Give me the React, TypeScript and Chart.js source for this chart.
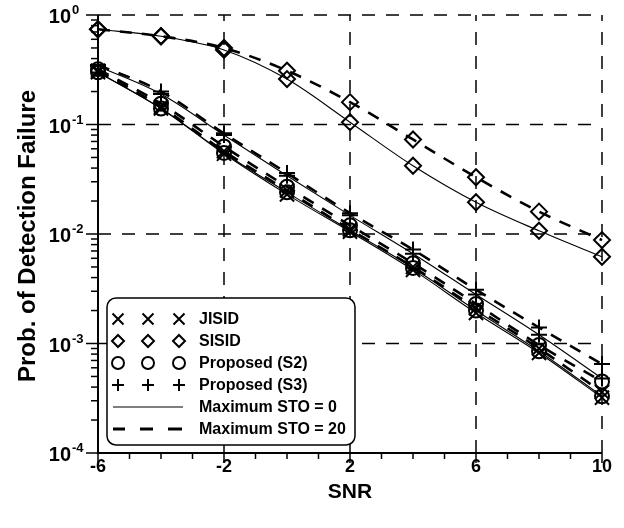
import React, { useEffect, useRef } from "react";
import { Chart, registerables } from "chart.js";
Chart.register(...registerables);

const snr = [-6, -4, -2, 0, 2, 4, 6, 8, 10];
const jisidSTO0 = [0.3, 0.14, 0.054, 0.023, 0.0105, 0.0047, 0.0019, 0.00082, 0.00032];
const jisidSTO20 = [0.31, 0.145, 0.057, 0.025, 0.011, 0.005, 0.0021, 0.0009, 0.00036];
const sisidSTO0 = [0.74, 0.64, 0.48, 0.26, 0.105, 0.042, 0.0195, 0.0107, 0.0062];
const sisidSTO20 = [0.74, 0.64, 0.5, 0.31, 0.16, 0.073, 0.033, 0.016, 0.0088];
const s2STO0 = [0.3, 0.14, 0.055, 0.024, 0.0108, 0.0049, 0.002, 0.00085, 0.00033];
const s2STO20 = [0.32, 0.155, 0.063, 0.027, 0.012, 0.0054, 0.0023, 0.00097, 0.00045];
const s3STO0 = [0.34, 0.19, 0.08, 0.034, 0.0148, 0.0066, 0.0028, 0.0012, 0.00048];
const s3STO20 = [0.35, 0.2, 0.083, 0.036, 0.0155, 0.0072, 0.0031, 0.0014, 0.00065];

const xTicks = [-6, -2, 2, 6, 10];
const yTickExps = [0, -1, -2, -3, -4];
const legendMarkerLabels = ["JISID", "SISID", "Proposed (S2)", "Proposed (S3)"];
const legendLineLabels = ["Maximum STO = 0", "Maximum STO = 20"];
const xTitle = "SNR";
const yTitle = "Prob. of Detection Failure";

const FONT = "'Liberation Sans', Arial, sans-serif";

function drawMarker(ctx: CanvasRenderingContext2D, kind: string, x: number, y: number, s: number) {
  ctx.beginPath();
  if (kind === "x") {
    ctx.moveTo(x - s, y - s); ctx.lineTo(x + s, y + s);
    ctx.moveTo(x + s, y - s); ctx.lineTo(x - s, y + s);
  } else if (kind === "d") {
    ctx.moveTo(x, y - s); ctx.lineTo(x + s, y); ctx.lineTo(x, y + s); ctx.lineTo(x - s, y); ctx.closePath();
  } else if (kind === "o") {
    ctx.arc(x, y, s, 0, Math.PI * 2);
  } else {
    ctx.moveTo(x - s, y); ctx.lineTo(x + s, y);
    ctx.moveTo(x, y - s); ctx.lineTo(x, y + s);
  }
  ctx.stroke();
}

const customPlugin = {
  id: "customAxes",
  beforeDatasetsDraw(chart: any) {
    const { ctx, chartArea: a, scales } = chart;
    const x = scales.x, y = scales.y;
    ctx.save();
    ctx.strokeStyle = "#000";
    ctx.lineWidth = 1.5;
    ctx.setLineDash([13, 11]);
    for (const t of xTicks) {
      if (t === xTicks[0]) continue;
      const px = x.getPixelForValue(t);
      ctx.beginPath(); ctx.moveTo(px, a.bottom); ctx.lineTo(px, a.top); ctx.stroke();
    }
    for (const e of yTickExps) {
      if (e === yTickExps[yTickExps.length - 1]) continue;
      const py = y.getPixelForValue(Math.pow(10, e));
      ctx.beginPath(); ctx.moveTo(a.left, py); ctx.lineTo(a.right, py); ctx.stroke();
    }
    ctx.restore();
  },
  afterDraw(chart: any) {
    const { ctx, chartArea: a, scales } = chart;
    const x = scales.x, y = scales.y;
    ctx.save();
    ctx.strokeStyle = "#000";
    ctx.fillStyle = "#000";
    ctx.setLineDash([]);
    ctx.lineWidth = 2;
    ctx.beginPath();
    ctx.moveTo(a.left, a.top); ctx.lineTo(a.left, a.bottom); ctx.lineTo(a.right, a.bottom);
    ctx.stroke();
    ctx.lineWidth = 1.5;
    for (let v = xTicks[0]; v <= xTicks[xTicks.length - 1]; v++) {
      const px = x.getPixelForValue(v);
      const major = xTicks.includes(v);
      ctx.beginPath(); ctx.moveTo(px, a.bottom); ctx.lineTo(px, a.bottom + (major ? 10 : 6)); ctx.stroke();
    }
    const emin = yTickExps[yTickExps.length - 1], emax = yTickExps[0];
    for (let e = emin; e <= emax; e++) {
      const py = y.getPixelForValue(Math.pow(10, e));
      ctx.beginPath(); ctx.moveTo(a.left, py); ctx.lineTo(a.left - 12, py); ctx.stroke();
      if (e < emax) {
        for (let m = 2; m <= 9; m++) {
          const pm = y.getPixelForValue(m * Math.pow(10, e));
          ctx.beginPath(); ctx.moveTo(a.left, pm); ctx.lineTo(a.left - 7, pm); ctx.stroke();
        }
      }
    }
    ctx.font = `bold 18px ${FONT}`;
    ctx.textAlign = "center";
    ctx.textBaseline = "middle";
    for (const t of xTicks) {
      ctx.fillText(String(t), x.getPixelForValue(t), 467);
    }
    for (const e of yTickExps) {
      const py = y.getPixelForValue(Math.pow(10, e));
      ctx.font = `bold 20px ${FONT}`;
      ctx.textAlign = "right";
      ctx.textBaseline = "alphabetic";
      ctx.fillText("10", 71, py + 8);
      ctx.font = `bold 13px ${FONT}`;
      ctx.textAlign = "left";
      ctx.fillText(String(e), 72, py - 1);
    }
    ctx.font = `bold 21px ${FONT}`;
    ctx.textAlign = "center";
    ctx.textBaseline = "middle";
    ctx.fillText(xTitle, (a.left + a.right) / 2, 492);
    ctx.save();
    ctx.translate(28, (a.top + a.bottom) / 2 + 2);
    ctx.rotate(-Math.PI / 2);
    ctx.font = `bold 24px ${FONT}`;
    ctx.fillText(yTitle, 0, 0);
    ctx.restore();
    const bx = 107, by = 298, bw = 248, bh = 147, r = 9;
    ctx.beginPath();
    ctx.moveTo(bx + r, by);
    ctx.arcTo(bx + bw, by, bx + bw, by + bh, r);
    ctx.arcTo(bx + bw, by + bh, bx, by + bh, r);
    ctx.arcTo(bx, by + bh, bx, by, r);
    ctx.arcTo(bx, by, bx + bw, by, r);
    ctx.closePath();
    ctx.fillStyle = "#fff";
    ctx.fill();
    ctx.lineWidth = 1.5;
    ctx.stroke();
    ctx.fillStyle = "#000";
    const rows = [319, 341, 363, 385, 407, 429];
    const mx = [118, 148, 179];
    const kinds = ["x", "d", "o", "p"];
    const sizes = [5.5, 6, 6, 6];
    ctx.font = `bold 16px ${FONT}`;
    ctx.textAlign = "left";
    ctx.textBaseline = "middle";
    ctx.lineWidth = 2;
    legendMarkerLabels.forEach((lab, i) => {
      for (const xx of mx) drawMarker(ctx, kinds[i], xx, rows[i], sizes[i]);
      ctx.fillText(lab, 199, rows[i] + 1);
    });
    ctx.lineWidth = 1.2;
    ctx.beginPath(); ctx.moveTo(113, rows[4]); ctx.lineTo(183, rows[4]); ctx.stroke();
    ctx.fillText(legendLineLabels[0], 199, rows[4] + 1);
    ctx.lineWidth = 3;
    for (const [s, e2] of [[113, 125], [140, 153], [168, 182]]) {
      ctx.beginPath(); ctx.moveTo(s, rows[5]); ctx.lineTo(e2, rows[5]); ctx.stroke();
    }
    ctx.fillText(legendLineLabels[1], 199, rows[5] + 1);
    ctx.restore();
  },
};

export default function App() {
  const ref = useRef<HTMLCanvasElement>(null);
  useEffect(() => {
    document.body.style.margin = "0";
    const canvas = ref.current!;
    const mk = (label: string, data: number[], style: string, radius: number, dashed: boolean) => ({
      label,
      data: snr.map((v, i) => ({ x: v, y: data[i] })),
      borderColor: "#000",
      backgroundColor: "transparent",
      borderWidth: dashed ? 2.6 : 1.1,
      borderDash: dashed ? [12, 10] : [],
      pointStyle: style,
      pointRadius: radius,
      pointBorderWidth: 2,
      pointBorderColor: "#000",
      pointBackgroundColor: "transparent",
      cubicInterpolationMode: "monotone",
      fill: false,
      clip: false,
    });
    const chart = new Chart(canvas, {
      type: "line",
      data: {
        datasets: [
          mk("JISID, STO=0", jisidSTO0, "crossRot", 10, false),
          mk("JISID, STO=20", jisidSTO20, "crossRot", 10, true),
          mk("SISID, STO=0", sisidSTO0, "rectRot", 8, false),
          mk("SISID, STO=20", sisidSTO20, "rectRot", 8, true),
          mk("Proposed (S2), STO=0", s2STO0, "circle", 7, false),
          mk("Proposed (S2), STO=20", s2STO20, "circle", 7, true),
          mk("Proposed (S3), STO=0", s3STO0, "cross", 8, false),
          mk("Proposed (S3), STO=20", s3STO20, "cross", 8, true),
        ] as any,
      },
      options: {
        responsive: false,
        animation: false,
        layout: { padding: { left: 98, right: 22, top: 15, bottom: 75 } },
        plugins: { legend: { display: false }, tooltip: { enabled: false } },
        scales: {
          x: { type: "linear", min: -6, max: 10, display: false },
          y: { type: "logarithmic", min: 1e-4, max: 1, display: false },
        },
      },
      plugins: [customPlugin],
    });
    return () => chart.destroy();
  }, []);
  return (
    <div style={{ position: "absolute", left: 0, top: 0, width: 624, height: 528, background: "#fff" }}>
      <canvas ref={ref} width={624} height={528} />
    </div>
  );
}
